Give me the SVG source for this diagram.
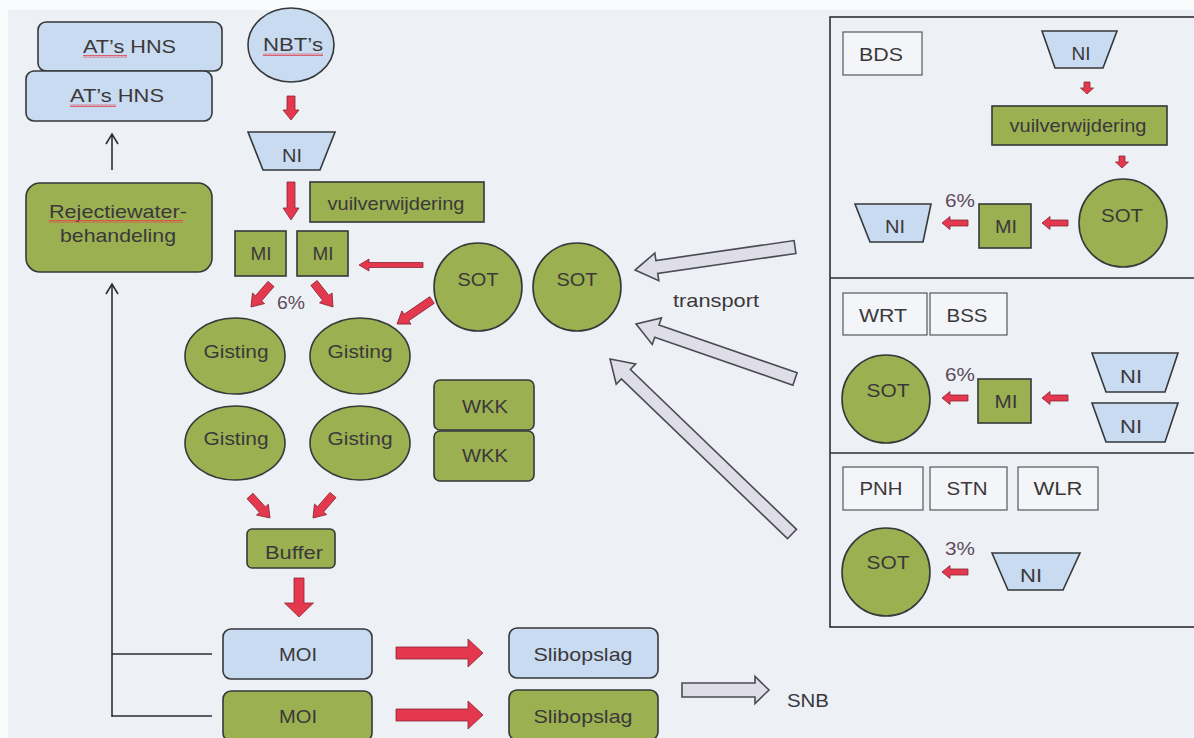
<svg xmlns="http://www.w3.org/2000/svg" width="1194" height="738" viewBox="0 0 1194 738">
<defs>
<style>
.t{font-family:"Liberation Sans",Arial,sans-serif;font-size:19px;fill:#3b383b;text-anchor:middle}
.p{fill:#5e4b5e}
.g{fill:#9bb050;stroke:#36383a;stroke-width:1.6}
.b{fill:#c8dbf0;stroke:#36383a;stroke-width:1.6}
.w{fill:#f3f5f8;stroke:#55575c;stroke-width:1.2}
.r{fill:#e3384d;stroke:#8a2434;stroke-width:0.8}
.ga{fill:#dedde8;stroke:#4b4b55;stroke-width:1.6}
.ln{fill:none;stroke:#2e2e32;stroke-width:1.6}
</style>
<pattern id="sq" width="4" height="3" patternUnits="userSpaceOnUse">
<path d="M0 2.5 L1 0.5 L2 2.5 L3 0.5 L4 2.5" fill="none" stroke="#e0404c" stroke-width="0.8"/>
</pattern>
</defs>
<rect width="1194" height="738" fill="#fafbfc"/>
<rect x="8" y="10" width="1186" height="728" fill="#edf1f5"/>

<g id="connectors">
<polygon class="r" transform="translate(291,96) rotate(90)" points="0,-4 14,-4 14,-8 24,0 14,8 14,4 0,4"/>
<polygon class="r" transform="translate(291,182) rotate(90)" points="0,-4 26,-4 26,-8 38,0 26,8 26,4 0,4"/>
<polygon class="r" transform="translate(423,265) rotate(180)" points="0,-2.5 54,-2.5 54,-6 64,0 54,6 54,2.5 0,2.5"/>
<polygon class="r" transform="translate(271,284) rotate(131)" points="0,-4 19,-4 19,-8 30.5,0 19,8 19,4 0,4"/>
<polygon class="r" transform="translate(314,283) rotate(51.6)" points="0,-4 19,-4 19,-8 30.6,0 19,8 19,4 0,4"/>
<polygon class="r" transform="translate(432,300) rotate(145.6)" points="0,-4 31,-4 31,-8 42.4,0 31,8 31,4 0,4"/>
<polygon class="r" transform="translate(250,496) rotate(47.7)" points="0,-4 18.5,-4 18.5,-8 29.7,0 18.5,8 18.5,4 0,4"/>
<polygon class="r" transform="translate(333,495) rotate(131)" points="0,-4 19,-4 19,-8 30.5,0 19,8 19,4 0,4"/>
<polygon class="r" transform="translate(299,578) rotate(90)" points="0,-5 25,-5 25,-14.5 39,0 25,14.5 25,5 0,5"/>
<polygon class="r" points="396,647 468,647 468,639 483,653 468,667 468,659 396,659"/>
<polygon class="r" points="396,709 468,709 468,701 483,715 468,729 468,721 396,721"/>
<polygon class="r" transform="translate(1087,82) rotate(90)" points="0,-3 6,-3 6,-6.5 12,0 6,6.5 6,3 0,3"/>
<polygon class="r" transform="translate(1122,156) rotate(90)" points="0,-3 6,-3 6,-6.5 12,0 6,6.5 6,3 0,3"/>
<polygon class="r" transform="translate(1068,223) rotate(180)" points="0,-3 18,-3 18,-6.5 26,0 18,6.5 18,3 0,3"/>
<polygon class="r" transform="translate(968,223) rotate(180)" points="0,-3 18,-3 18,-6.5 26,0 18,6.5 18,3 0,3"/>
<polygon class="r" transform="translate(1068,398) rotate(180)" points="0,-3 18,-3 18,-6.5 26,0 18,6.5 18,3 0,3"/>
<polygon class="r" transform="translate(968,398) rotate(180)" points="0,-3 18,-3 18,-6.5 26,0 18,6.5 18,3 0,3"/>
<polygon class="r" transform="translate(968,572) rotate(180)" points="0,-3 18,-3 18,-6.5 26,0 18,6.5 18,3 0,3"/>
<polygon class="ga" transform="translate(795,247) rotate(171.8)" points="0,-6.5 139.6,-6.5 139.6,-14 161.6,0 139.6,14 139.6,6.5 0,6.5"/>
<polygon class="ga" transform="translate(795,379) rotate(199.1)" points="0,-6.5 146.2,-6.5 146.2,-14 168.2,0 146.2,14 146.2,6.5 0,6.5"/>
<polygon class="ga" transform="translate(792,534) rotate(223.9)" points="0,-6.5 230.5,-6.5 230.5,-14 252.5,0 230.5,14 230.5,6.5 0,6.5"/>
<polygon class="ga" points="682,683 755,683 755,676.5 769,690 755,703.5 755,697 682,697"/>
<path class="ln" d="M112,170 V135 M106,144 L112,134 L118,144"/>
<path class="ln" d="M112,717 V285 M106,294 L112,284 L118,294 M112,654 H212 M112,716 H212"/>
</g>

<g id="panel">
<rect x="830" y="17" width="380" height="610" fill="none" stroke="#2e2e32" stroke-width="1.6"/>
<line x1="830" y1="278" x2="1194" y2="278" stroke="#2e2e32" stroke-width="1.6"/>
<line x1="830" y1="453" x2="1194" y2="453" stroke="#2e2e32" stroke-width="1.6"/>
</g>

<g id="ats-hns-back"><rect class="b" x="38" y="22" width="184" height="49" rx="8"/><text class="t" x="129.5" y="53" textLength="93" lengthAdjust="spacingAndGlyphs">AT’s HNS</text><rect x="83" y="55" width="44" height="3" fill="url(#sq)"/></g>
<g id="ats-hns-front"><rect class="b" x="26" y="71" width="186" height="50" rx="8"/><text class="t" x="117" y="102" textLength="94" lengthAdjust="spacingAndGlyphs">AT’s HNS</text><rect x="70" y="104" width="46" height="3" fill="url(#sq)"/></g>
<g id="nbts"><ellipse class="b" cx="291" cy="45" rx="43" ry="37"/><text class="t" x="293" y="51" textLength="60" lengthAdjust="spacingAndGlyphs">NBT’s</text><rect x="263" y="53" width="60" height="3" fill="url(#sq)"/></g>
<g id="ni-main"><polygon class="b" points="248,132 335,132 320,170 263,170"/><text class="t" x="292" y="162" textLength="20" lengthAdjust="spacingAndGlyphs">NI</text></g>
<g id="vuil-main"><rect class="g" x="310" y="182" width="174" height="40"/><text class="t" x="396" y="210" textLength="137" lengthAdjust="spacingAndGlyphs">vuilverwijdering</text></g>
<g id="mi-1"><rect class="g" x="235" y="231" width="51" height="45"/><text class="t" x="261" y="260" textLength="21" lengthAdjust="spacingAndGlyphs">MI</text></g>
<g id="mi-2"><rect class="g" x="297" y="231" width="51" height="45"/><text class="t" x="323" y="260" textLength="21" lengthAdjust="spacingAndGlyphs">MI</text></g>
<g id="pct-main"><text class="t p" x="291" y="309" textLength="28" lengthAdjust="spacingAndGlyphs">6%</text></g>
<g id="sot-1"><circle class="g" cx="478" cy="287" r="44"/><text class="t" x="478" y="286" textLength="41" lengthAdjust="spacingAndGlyphs">SOT</text></g>
<g id="sot-2"><circle class="g" cx="577" cy="287" r="44"/><text class="t" x="577" y="286" textLength="41" lengthAdjust="spacingAndGlyphs">SOT</text></g>
<g id="transport"><text class="t" x="716" y="307" textLength="86" lengthAdjust="spacingAndGlyphs">transport</text></g>
<g id="rejectie"><rect class="g" x="26" y="183" width="186" height="89" rx="14"/><text class="t" x="118" y="218" textLength="138" lengthAdjust="spacingAndGlyphs">Rejectiewater-</text><text class="t" x="118" y="242" textLength="116" lengthAdjust="spacingAndGlyphs">behandeling</text><rect x="49" y="220" width="134" height="3" fill="url(#sq)"/></g>
<g id="gisting-1"><ellipse class="g" cx="235" cy="356" rx="50" ry="38"/><text class="t" x="236" y="358" textLength="65" lengthAdjust="spacingAndGlyphs">Gisting</text></g>
<g id="gisting-2"><ellipse class="g" cx="360" cy="356" rx="50" ry="38"/><text class="t" x="360" y="358" textLength="65" lengthAdjust="spacingAndGlyphs">Gisting</text></g>
<g id="gisting-3"><ellipse class="g" cx="235" cy="443" rx="50" ry="37"/><text class="t" x="236" y="445" textLength="65" lengthAdjust="spacingAndGlyphs">Gisting</text></g>
<g id="gisting-4"><ellipse class="g" cx="360" cy="443" rx="50" ry="37"/><text class="t" x="360" y="445" textLength="65" lengthAdjust="spacingAndGlyphs">Gisting</text></g>
<g id="wkk-1"><rect class="g" x="434" y="380" width="100" height="50" rx="6"/><text class="t" x="485" y="413" textLength="46" lengthAdjust="spacingAndGlyphs">WKK</text></g>
<g id="wkk-2"><rect class="g" x="434" y="431" width="100" height="50" rx="6"/><text class="t" x="485" y="462" textLength="46" lengthAdjust="spacingAndGlyphs">WKK</text></g>
<g id="buffer"><rect class="g" x="247" y="529" width="88" height="39" rx="5"/><text class="t" x="294" y="559" textLength="58" lengthAdjust="spacingAndGlyphs">Buffer</text></g>
<g id="moi-blue"><rect class="b" x="223" y="629" width="149" height="50" rx="8"/><text class="t" x="298" y="661" textLength="38" lengthAdjust="spacingAndGlyphs">MOI</text></g>
<g id="moi-green"><rect class="g" x="223" y="691" width="149" height="50" rx="8"/><text class="t" x="298" y="723" textLength="38" lengthAdjust="spacingAndGlyphs">MOI</text></g>
<g id="slib-blue"><rect class="b" x="509" y="628" width="149" height="50" rx="8"/><text class="t" x="583" y="661" textLength="99" lengthAdjust="spacingAndGlyphs">Slibopslag</text></g>
<g id="slib-green"><rect class="g" x="509" y="690" width="149" height="50" rx="8"/><text class="t" x="583" y="723" textLength="99" lengthAdjust="spacingAndGlyphs">Slibopslag</text></g>
<g id="snb"><text class="t" x="808" y="707" textLength="42" lengthAdjust="spacingAndGlyphs">SNB</text></g>

<g id="bds"><rect class="w" x="843" y="32" width="79" height="43"/><text class="t" x="881" y="61" textLength="44" lengthAdjust="spacingAndGlyphs">BDS</text></g>
<g id="ni-bds-top"><polygon class="b" points="1042,31 1117,31 1103,68 1055,68"/><text class="t" x="1081" y="60" textLength="19" lengthAdjust="spacingAndGlyphs">NI</text></g>
<g id="vuil-bds"><rect class="g" x="992" y="106" width="175" height="39"/><text class="t" x="1078" y="132" textLength="137" lengthAdjust="spacingAndGlyphs">vuilverwijdering</text></g>
<g id="sot-bds"><circle class="g" cx="1123" cy="223" r="44"/><text class="t" x="1122" y="222" textLength="42" lengthAdjust="spacingAndGlyphs">SOT</text></g>
<g id="mi-bds"><rect class="g" x="979" y="204" width="52" height="44"/><text class="t" x="1006" y="233" textLength="22" lengthAdjust="spacingAndGlyphs">MI</text></g>
<g id="pct-bds"><text class="t p" x="960" y="207" textLength="30" lengthAdjust="spacingAndGlyphs">6%</text></g>
<g id="ni-bds-out"><polygon class="b" points="855,204 931,204 923,242 870,242"/><text class="t" x="895" y="233" textLength="20" lengthAdjust="spacingAndGlyphs">NI</text></g>

<g id="wrt"><rect class="w" x="843" y="293" width="84" height="42"/><text class="t" x="883" y="322" textLength="48" lengthAdjust="spacingAndGlyphs">WRT</text></g>
<g id="bss"><rect class="w" x="930" y="293" width="77" height="42"/><text class="t" x="967" y="322" textLength="41" lengthAdjust="spacingAndGlyphs">BSS</text></g>
<g id="sot-wrt"><circle class="g" cx="886" cy="399" r="44"/><text class="t" x="888" y="397" textLength="43" lengthAdjust="spacingAndGlyphs">SOT</text></g>
<g id="pct-wrt"><text class="t p" x="960" y="381" textLength="30" lengthAdjust="spacingAndGlyphs">6%</text></g>
<g id="mi-wrt"><rect class="g" x="978" y="379" width="53" height="44"/><text class="t" x="1006" y="408" textLength="23" lengthAdjust="spacingAndGlyphs">MI</text></g>
<g id="ni-wrt-1"><polygon class="b" points="1092,353 1178,353 1165,392 1106,392"/><text class="t" x="1131" y="383" textLength="22" lengthAdjust="spacingAndGlyphs">NI</text></g>
<g id="ni-wrt-2"><polygon class="b" points="1092,403 1178,403 1165,442 1106,442"/><text class="t" x="1131" y="433" textLength="22" lengthAdjust="spacingAndGlyphs">NI</text></g>

<g id="pnh"><rect class="w" x="843" y="467" width="80" height="43"/><text class="t" x="881" y="495" textLength="43" lengthAdjust="spacingAndGlyphs">PNH</text></g>
<g id="stn"><rect class="w" x="930" y="467" width="77" height="43"/><text class="t" x="967" y="495" textLength="41" lengthAdjust="spacingAndGlyphs">STN</text></g>
<g id="wlr"><rect class="w" x="1018" y="467" width="80" height="43"/><text class="t" x="1058" y="495" textLength="49" lengthAdjust="spacingAndGlyphs">WLR</text></g>
<g id="sot-pnh"><circle class="g" cx="886" cy="572" r="44"/><text class="t" x="888" y="569" textLength="43" lengthAdjust="spacingAndGlyphs">SOT</text></g>
<g id="pct-pnh"><text class="t p" x="960" y="555" textLength="30" lengthAdjust="spacingAndGlyphs">3%</text></g>
<g id="ni-pnh"><polygon class="b" points="992,553 1080,553 1063,590 1008,590"/><text class="t" x="1031" y="582" textLength="22" lengthAdjust="spacingAndGlyphs">NI</text></g>
</svg>
